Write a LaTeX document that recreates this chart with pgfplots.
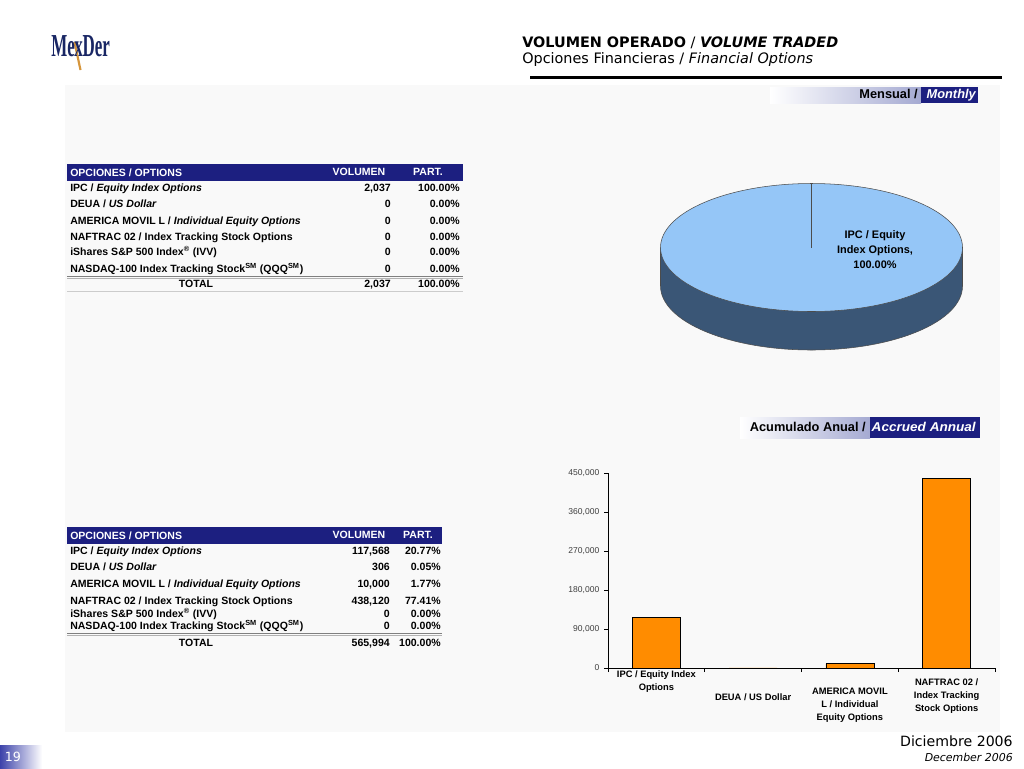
\documentclass[border=0pt]{standalone}
\usepackage{fontspec}
\setmainfont{Liberation Sans}
\newfontfamily\dv{DejaVu Sans}
\newfontfamily\lserif{Liberation Serif}
\usepackage{pgfplots}
\pgfplotsset{compat=1.18}
\usepackage{graphicx}
\definecolor{navy}{RGB}{28,31,128}
\definecolor{logonavy}{RGB}{25,38,100}
\definecolor{logogold}{RGB}{214,150,60}
\definecolor{barorange}{RGB}{255,140,0}
\definecolor{pieTop}{RGB}{149,198,247}
\definecolor{pieSide}{RGB}{58,86,118}
\definecolor{panel}{RGB}{249,249,249}
\definecolor{bannerR}{RGB}{165,170,210}
\definecolor{footblue}{RGB}{60,66,170}
\newcommand{\tf}{\fontsize{7.9}{9}\selectfont\bfseries}
\begin{document}
\begin{tikzpicture}
\begin{scope}[x=0.75pt,y=-0.75pt]
\useasboundingbox[fill=white] (0,0) rectangle (1024,768);
\fill[panel] (65,85) rectangle (1000,732);
% logo
\draw[logogold,line width=1.6pt] (74.5,42) -- (80.5,70);
\node[anchor=base west,inner sep=0,text=logonavy] at (51,56.5) {\lserif\bfseries\fontsize{24}{24}\selectfont\scalebox{0.53}[1]{Me\kern-0.02em x\kern-0.02em Der}};
% header
\node[anchor=west,inner sep=0] at (522,43) {\dv\fontsize{10.8}{12}\selectfont\textbf{VOLUMEN OPERADO} / \textbf{\textit{VOLUME TRADED}}};
\node[anchor=west,inner sep=0] at (522,60) {\dv\fontsize{10.8}{12}\selectfont Opciones Financieras / \textit{Financial Options}};
\fill[black] (530,76) rectangle (1002,79);
% banners
\shade[left color=white,right color=bannerR] (770,87) rectangle (921,103);
\fill[navy] (921,87) rectangle (978,103);
\node[anchor=base east,inner sep=0] at (918,98.5) {\fontsize{9.6}{11}\selectfont\bfseries Mensual /};
\node[anchor=base east,inner sep=0,text=white] at (976,98.5) {\fontsize{9.6}{11}\selectfont\bfseries\itshape Monthly};
\shade[left color=white,right color=bannerR] (740,417) rectangle (870,438);
\fill[navy] (870,417) rectangle (980,438);
\node[anchor=base east,inner sep=0] at (866,431) {\fontsize{9.6}{11}\selectfont\bfseries Acumulado Anual /};
\node[anchor=base east,inner sep=0,text=white] at (976,431) {\fontsize{9.6}{11}\selectfont\bfseries\itshape\scalebox{1.06}[1]{Accrued Annual}};
% table 1
\fill[navy] (67,164) rectangle (463,181);
\node[anchor=base west,inner sep=0,text=white] at (70,176.5) {\tf OPCIONES / OPTIONS};
\node[anchor=base,inner sep=0,text=white] at (359,175.5) {\tf VOLUMEN};
\node[anchor=base,inner sep=0,text=white] at (428,175.5) {\tf PART.};
\foreach \y/\lab/\v/\p in {
 191.5/{IPC / \textit{Equity  Index Options}}/{2,037}/{100.00\%},
 207.5/{DEUA / \textit{US Dollar}}/0/{0.00\%},
 224.5/{AMERICA MOVIL L / \textit{Individual Equity Options}}/0/{0.00\%},
 240.5/{NAFTRAC 02 / Index Tracking Stock Options}/0/{0.00\%},
 255.5/{iShares S\&P 500 Index\textsuperscript{\textregistered} (IVV)}/0/{0.00\%},
 272.5/{NASDAQ-100 Index Tracking Stock\textsuperscript{SM} (QQQ\textsuperscript{SM})}/0/{0.00\%}}{
 \node[anchor=base west,inner sep=0] at (70,\y) {\tf\lab};
 \node[anchor=base east,inner sep=0] at (391,\y) {\tf\v};
 \node[anchor=base east,inner sep=0] at (460,\y) {\tf\p};
}
\draw[gray,line width=0.6pt] (67,276.5) -- (463,276.5);
\draw[gray!60,line width=0.4pt] (67,278) -- (463,278);
\node[anchor=base,inner sep=0] at (196,287.5) {\tf TOTAL};
\node[anchor=base east,inner sep=0] at (391,287.5) {\tf 2,037};
\node[anchor=base east,inner sep=0] at (460,287.5) {\tf 100.00\%};
\draw[gray!40,line width=0.5pt] (67,291) -- (463,291);
% table 2
\fill[navy] (67,527) rectangle (442,544);
\node[anchor=base west,inner sep=0,text=white] at (70,539.5) {\tf OPCIONES / OPTIONS};
\node[anchor=base,inner sep=0,text=white] at (359,538.5) {\tf VOLUMEN};
\node[anchor=base,inner sep=0,text=white] at (418,538.5) {\tf PART.};
\foreach \y/\lab/\v/\p in {
 554.5/{IPC / \textit{Equity  Index Options}}/{117,568}/{20.77\%},
 570.5/{DEUA / \textit{US Dollar}}/306/{0.05\%},
 587.5/{AMERICA MOVIL L / \textit{Individual Equity Options}}/{10,000}/{1.77\%},
 604.5/{NAFTRAC 02 / Index Tracking Stock Options}/{438,120}/{77.41\%},
 617.5/{iShares S\&P 500 Index\textsuperscript{\textregistered} (IVV)}/0/{0.00\%},
 629.5/{NASDAQ-100 Index Tracking Stock\textsuperscript{SM} (QQQ\textsuperscript{SM})}/0/{0.00\%}}{
 \node[anchor=base west,inner sep=0] at (70,\y) {\tf\lab};
 \node[anchor=base east,inner sep=0] at (390,\y) {\tf\v};
 \node[anchor=base east,inner sep=0] at (441,\y) {\tf\p};
}
\draw[gray,line width=0.6pt] (67,633.5) -- (442,633.5);
\draw[gray!60,line width=0.4pt] (67,635) -- (442,635);
\node[anchor=base,inner sep=0] at (196,646.5) {\tf TOTAL};
\node[anchor=base east,inner sep=0] at (390,646.5) {\tf 565,994};
\node[anchor=base east,inner sep=0] at (441,646.5) {\tf 100.00\%};
% footer
\shade[left color=footblue,right color=white] (0,745) rectangle (42,768);
\node[text=white,inner sep=0] at (13,757) {\dv\fontsize{9.5}{11}\selectfont 19};
\node[anchor=east,inner sep=0] at (1013,741) {\dv\fontsize{10.6}{12}\selectfont Diciembre 2006};
\node[anchor=east,inner sep=0] at (1013,757) {\dv\fontsize{8.2}{10}\selectfont\itshape December 2006};
\end{scope}
% pie chart (single slice, 100%)
\begin{axis}[at={(495pt,-263.25pt)},anchor=south west,scale only axis,
  width=227.25pt,height=126.75pt,xmin=0,xmax=303,ymin=0,ymax=169,
  hide axis,clip=false]
\fill[pieSide] (axis cs:151.5,65) ellipse [x radius=151, y radius=64];
\fill[pieSide] (axis cs:0.5,65) rectangle (axis cs:302.5,103.5);
\draw[black!70,line width=0.4pt] (axis cs:0.5,65) -- (axis cs:0.5,103.5);
\draw[black!70,line width=0.4pt] (axis cs:302.5,65) -- (axis cs:302.5,103.5);
\draw[black!70,line width=0.4pt] (axis cs:0.5,65) arc [start angle=180, end angle=360, x radius=151, y radius=64];
\fill[pieTop] (axis cs:151.5,103.5) ellipse [x radius=151, y radius=64];
\draw[black!70,line width=0.4pt] (axis cs:151.5,103.5) ellipse [x radius=151, y radius=64];
\draw[black!70,line width=0.4pt] (axis cs:151.5,103.5) -- (axis cs:151.5,167.5);
\node[align=center,font=\fontsize{8.2}{11.25}\selectfont\bfseries] at (axis cs:215,101) {IPC / Equity\\Index Options,\\100.00\%};
\end{axis}
% bar chart
\begin{axis}[at={(456pt,-501pt)},anchor=south west,scale only axis,
  width=290.25pt,height=146.25pt,
  xmin=-0.5,xmax=3.5,ymin=0,ymax=450000,
  axis lines=left, axis line style={-,black,line width=0.5pt},
  xtick={-0.5,0.5,1.5,2.5,3.5}, xticklabels={},
  ytick={0,90000,180000,270000,360000,450000},
  tick align=outside, major tick length=3pt,
  tick style={black,line width=0.5pt},
  scaled y ticks=false,
  yticklabel style={font=\fontsize{6.4}{7}\selectfont,text=black!75,
    /pgf/number format/.cd,fixed,1000 sep={,},assume math mode=true},
  ybar, bar width=36pt, clip=false]
\addplot[fill=barorange,draw=black,line width=0.5pt] coordinates {(0,117568) (1,306) (2,10000) (3,438120)};
\begin{scope}[font=\fontsize{7}{9.75}\selectfont\bfseries]
\node[align=center,yshift=-10.25pt] at (axis cs:0,0) {IPC / Equity Index\\Options};
\node[align=center,yshift=-21.75pt] at (axis cs:1,0) {DEUA / US Dollar};
\node[align=center,yshift=-28.2pt] at (axis cs:2,0) {AMERICA MOVIL\\L / Individual\\Equity Options};
\node[align=center,yshift=-21.3pt] at (axis cs:3,0) {NAFTRAC 02 /\\Index Tracking\\Stock Options};
\end{scope}
\end{axis}
\end{tikzpicture}
\end{document}
